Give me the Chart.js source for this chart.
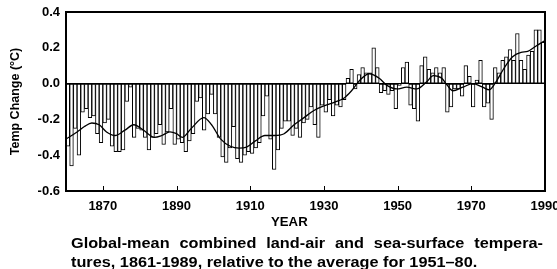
<!DOCTYPE html>
<html>
<head>
<meta charset="utf-8">
<script src="https://cdn.jsdelivr.net/npm/chart.js@4.4.1/dist/chart.umd.min.js"></script>
<style>
  html, body { margin: 0; padding: 0; background: #fff; }
  #wrap { position: relative; width: 557px; height: 269px; overflow: hidden;
          font-family: "Liberation Sans", Arial, sans-serif; font-weight: bold; color: #000; }
  #chart { position: absolute; left: 0; top: 0; }
  #xtitle { position: absolute; left: 271px; top: 216px; font-size: 12px; line-height: 12px; transform: scaleX(1.1); transform-origin: left top; }
  #caption { position: absolute; left: 71px; top: 233px; font-size: 15px; line-height: 19px;
             transform: scaleX(1.085); transform-origin: left top; }
  #caption .l1 { width: 435px; text-align: justify; text-align-last: justify; }
  .frame { position: absolute; box-sizing: border-box; border: 2px solid #000; pointer-events: none; }
  .tick { position: absolute; width: 1px; height: 5px; background: #000; pointer-events: none; }
</style>
</head>
<body>
<div id="wrap">
  <canvas id="chart" width="557" height="269"></canvas>
  <div id="xtitle">YEAR</div>
  <div id="caption">
    <div class="l1">Global-mean combined land-air and sea-surface tempera-</div>
    <div>tures, 1861-1989, relative to the average for 1951–80.</div>
  </div>
</div>
<script>
// annual anomalies, first bar = 1860
const firstYear = 1860;
const tempChange = [
  -0.35, -0.46, -0.25, -0.40, -0.16, -0.14, -0.19, -0.18, -0.28, -0.33,
  -0.22, -0.20, -0.35, -0.38, -0.38, -0.37, -0.10, -0.02, -0.30, -0.25,
  -0.26, -0.30, -0.37, -0.30, -0.28, -0.23, -0.34, -0.27, -0.14, -0.34,
  -0.31, -0.33, -0.38, -0.32, -0.28, -0.10, -0.08, -0.26, -0.17, -0.06,
  -0.17, -0.30, -0.41, -0.44, -0.36, -0.24, -0.42, -0.44, -0.40, -0.38,
  -0.39, -0.36, -0.33, -0.18, -0.07, -0.31, -0.48, -0.37, -0.25, -0.21,
  -0.21, -0.29, -0.25, -0.30, -0.22, -0.20, -0.13, -0.23, -0.30, -0.12,
  -0.16, -0.09, -0.18, -0.12, -0.13, -0.09, 0.03, 0.08, -0.03, 0.05,
  0.09, 0.06, 0.06, 0.20, 0.09, -0.05, -0.04, -0.06, -0.04, -0.14,
  -0.01, 0.09, 0.12, -0.12, -0.14, -0.21, 0.10, 0.15, 0.08, 0.06,
  0.09, 0.06, 0.09, -0.16, -0.13, -0.03, -0.03, -0.07, 0.10, 0.04,
  -0.13, 0.02, 0.13, -0.13, -0.11, -0.20, 0.09, 0.06, 0.13, 0.15,
  0.19, 0.13, 0.28, 0.13, 0.08, 0.16, 0.18, 0.30, 0.30, 0.23
];
const years = tempChange.map((_, i) => firstYear + i);

// smoothed curve
const smoothYears = [
  1860, 1863, 1865, 1867, 1869, 1871, 1873.3, 1876, 1878.4, 1881,
  1884, 1886, 1888.2, 1890, 1891.6, 1894, 1897.4, 1899.5, 1902, 1904.6,
  1907, 1909, 1911.4, 1914, 1916.5, 1919.2, 1921.9, 1924.6, 1927.3, 1930,
  1932.8, 1935.5, 1937.5, 1939.8, 1942.3, 1945, 1947.1, 1949.8, 1952.5, 1955.2,
  1957.9, 1959.7, 1962, 1963.5, 1965, 1967.7, 1970.4, 1973.1, 1974.9, 1976.7,
  1979, 1981.2, 1983.5, 1985.3, 1987.6, 1990
];
const smoothValues = [
  -0.31, -0.27, -0.24, -0.22, -0.23, -0.27, -0.29, -0.26, -0.23, -0.26,
  -0.30, -0.29, -0.27, -0.28, -0.30, -0.25, -0.19, -0.23, -0.31, -0.35,
  -0.36, -0.355, -0.32, -0.29, -0.29, -0.28, -0.23, -0.19, -0.15, -0.125,
  -0.105, -0.08, -0.04, 0.02, 0.055, 0.03, -0.01, -0.03, -0.02, -0.03,
  0.01, 0.045, 0.03, -0.01, -0.04, -0.02, 0.00, -0.02, -0.035, 0.01,
  0.09, 0.15, 0.175, 0.18, 0.21, 0.24
];

const xTickYears = [1870, 1890, 1910, 1930, 1950, 1970, 1990];
const yTickValues = [-0.6, -0.4, -0.2, 0.0, 0.2, 0.4];

const tickFont = { family: '"Liberation Sans", Arial, sans-serif', size: 13, weight: 'bold' };

// box round the plot plus the short inward year ticks
let frameDone = false;
const plotFrame = {
  id: 'plotFrame',
  afterDraw(chart) {
    const { ctx, chartArea: a } = chart;
    const x = chart.scales.x;
    ctx.save();
    ctx.strokeStyle = '#000';
    ctx.lineWidth = 2;
    ctx.strokeRect(a.left, a.top, a.right - a.left, a.bottom - a.top);
    ctx.lineWidth = 1;
    xTickYears.slice(0, -1).forEach(v => {
      const px = Math.round(x.getPixelForValue(v)) + 0.5;
      ctx.beginPath();
      ctx.moveTo(px, a.bottom);
      ctx.lineTo(px, a.bottom - 5);
      ctx.stroke();
    });
    ctx.restore();

    if (frameDone) return;
    frameDone = true;
    const wrap = document.getElementById('wrap');
    const box = document.createElement('div');
    box.className = 'frame';
    box.style.left = (a.left - 1) + 'px';
    box.style.top = (a.top - 1) + 'px';
    box.style.width = (a.right - a.left + 2) + 'px';
    box.style.height = (a.bottom - a.top + 2) + 'px';
    wrap.appendChild(box);
    xTickYears.slice(0, -1).forEach(v => {
      const t = document.createElement('div');
      t.className = 'tick';
      t.style.left = Math.round(x.getPixelForValue(v)) + 'px';
      t.style.top = (a.bottom - 5) + 'px';
      wrap.appendChild(t);
    });
  }
};

new Chart(document.getElementById('chart'), {
  type: 'bar',
  data: {
    datasets: [
      {
        type: 'line',
        order: 0,
        data: smoothYears.map((yr, i) => ({ x: yr, y: smoothValues[i] })),
        borderColor: '#000',
        borderWidth: 1.3,
        pointRadius: 0,
        fill: false,
        cubicInterpolationMode: 'monotone'
      },
      {
        type: 'bar',
        order: 1,
        data: years.map((yr, i) => ({ x: yr + 0.5, y: tempChange[i] })),
        backgroundColor: '#fff',
        borderColor: '#000',
        borderWidth: 1,
        borderSkipped: false,
        barPercentage: 1,
        categoryPercentage: 1
      }
    ]
  },
  options: {
    responsive: false,
    animation: false,
    layout: { padding: { left: 0, right: 12, top: 12, bottom: 53 } },
    plugins: { legend: { display: false }, tooltip: { enabled: false } },
    scales: {
      x: {
        type: 'linear',
        offset: false,
        min: 1860,
        max: 1990,
        afterBuildTicks: s => { s.ticks = xTickYears.map(v => ({ value: v })); },
        afterFit: s => { s.height = 25; s.paddingLeft = 0; s.paddingRight = 0; },
        grid: { display: false, drawTicks: false },
        border: { display: true, color: '#000', width: 2 },
        ticks: {
          autoSkip: false, maxRotation: 0, padding: 8, color: '#000', font: tickFont,
          callback: v => String(v)
        }
      },
      y: {
        type: 'linear',
        min: -0.6,
        max: 0.4,
        afterBuildTicks: s => { s.ticks = yTickValues.map(v => ({ value: v })); },
        afterFit: s => { s.width = 66; s.paddingTop = 0; s.paddingBottom = 0; },
        grid: {
          drawTicks: false,
          lineWidth: 1,
          color: c => (c.tick && (Math.abs(c.tick.value) < 1e-9 || c.tick.value > 0.39) ? '#000' : 'rgba(0,0,0,0)')
        },
        border: { display: true, color: '#000', width: 2 },
        ticks: {
          padding: 6, color: '#000', font: tickFont,
          callback: v => (Math.abs(v) < 1e-9 ? 0 : v).toFixed(1)
        },
        title: {
          display: true,
          text: 'Temp Change (°C)',
          color: '#000',
          padding: { top: 8, bottom: 0 },
          font: { family: '"Liberation Sans", Arial, sans-serif', size: 12.5, weight: 'bold' }
        }
      }
    }
  },
  plugins: [plotFrame]
});
</script>
</body>
</html>
